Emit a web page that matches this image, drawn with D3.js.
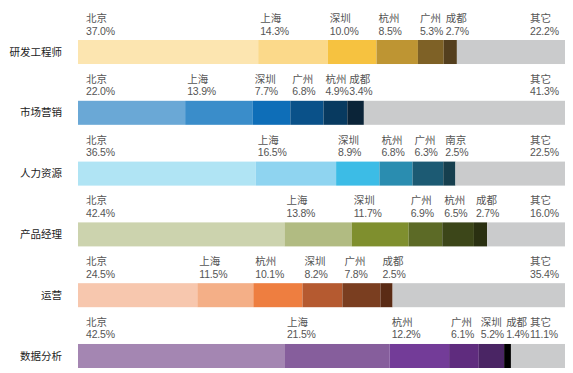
<!DOCTYPE html>
<html>
<head>
<meta charset="utf-8">
<script src="https://cdn.jsdelivr.net/npm/d3@7"></script>
<style>
  body { margin: 0; background: #fff; }
  svg { display: block; }
  text { font-family: "Liberation Sans", "Noto Sans CJK SC", sans-serif; }
</style>
</head>
<body>
<div id="chart"></div>
<script>
  // Data
  var roles = ["研发工程师", "市场营销", "人力资源", "产品经理", "运营", "数据分析"];

  var cities = [
    ["北京", "上海", "深圳", "杭州", "广州", "成都", "其它"],
    ["北京", "上海", "深圳", "广州", "杭州", "成都", "其它"],
    ["北京", "上海", "深圳", "杭州", "广州", "南京", "其它"],
    ["北京", "上海", "深圳", "广州", "杭州", "成都", "其它"],
    ["北京", "上海", "杭州", "深圳", "广州", "成都", "其它"],
    ["北京", "上海", "杭州", "广州", "深圳", "成都", "其它"]
  ];

  var shares = [
    [37.0, 14.3, 10.0, 8.5, 5.3, 2.7, 22.2],
    [22.0, 13.9, 7.7, 6.8, 4.9, 3.4, 41.3],
    [36.5, 16.5, 8.9, 6.8, 6.3, 2.5, 22.5],
    [42.4, 13.8, 11.7, 6.9, 6.5, 2.7, 16.0],
    [24.5, 11.5, 10.1, 8.2, 7.8, 2.5, 35.4],
    [42.5, 21.5, 12.2, 6.1, 5.2, 1.4, 11.1]
  ];

  // one colour ramp per role, "其它" is always grey
  var palettes = [
    ["#fce5b0", "#fbd98a", "#f6c240", "#be9533", "#7e6126", "#543f1e"],
    ["#6aa8d6", "#3a8dca", "#0e6eb8", "#0a5189", "#083a60", "#0b2438"],
    ["#b0e4f4", "#8fd4f0", "#3cbce6", "#2a8db0", "#1c5a73", "#163f4e"],
    ["#ccd3ae", "#b1bb82", "#7f8f2e", "#5c6a26", "#3c4619", "#2a3011"],
    ["#f7c7ae", "#f4af87", "#ee7e40", "#b55a30", "#7a3e20", "#5a2b15"],
    ["#a486b2", "#865e9c", "#733c98", "#5f2c7e", "#4a2564", "#000000"]
  ];
  var otherColor = "#cacbcc";

  var w = 573, h = 373;

  var x = d3.scaleLinear().domain([0, 100]).range([78, 565]);
  var y = d3.scaleBand().domain(roles).range([40, 368]).paddingInner(0.605).paddingOuter(0);

  var svg = d3.select("#chart").append("svg")
    .attr("width", w)
    .attr("height", h);

  // Build stacked segments per row
  var rows = roles.map(function (role, r) {
    var start = 0;
    var segs = shares[r].map(function (v, i) {
      var last = i === shares[r].length - 1;
      var seg = {
        role: role,
        city: cities[r][i],
        value: v,
        x0: start,
        x1: start + v,
        isOther: last,
        first: i === 0,
        color: last ? otherColor : palettes[r][i]
      };
      start += v;
      return seg;
    });
    return { role: role, segs: segs };
  });

  var rowG = svg.selectAll("g.row")
    .data(rows)
    .enter()
    .append("g")
    .attr("class", "row")
    .attr("transform", function (d) { return "translate(0," + y(d.role) + ")"; });

  // Role labels on the left
  rowG.append("text")
    .attr("x", 62)
    .attr("y", y.bandwidth() / 2)
    .attr("dy", "0.35em")
    .attr("text-anchor", "end")
    .attr("font-size", 10.5)
    .attr("fill", "#222")
    .style("font-family", "'Noto Sans CJK SC', sans-serif")
    .text(function (d) { return d.role; });

  // Segments
  rowG.selectAll("rect")
    .data(function (d) { return d.segs; })
    .enter()
    .append("rect")
    .attr("x", function (d) { return x(d.x0); })
    .attr("y", 0)
    .attr("width", function (d) { return x(d.x1) - x(d.x0); })
    .attr("height", y.bandwidth())
    .attr("fill", function (d) { return d.color; });

  // Labels: city name over percentage
  function labelX(d) {
    if (d.isOther) return 530;
    return x(d.x0) + (d.first ? 8 : 2);
  }

  var labels = rowG.selectAll("g.lbl")
    .data(function (d) { return d.segs; })
    .enter()
    .append("g")
    .attr("class", "lbl")
    .attr("transform", function (d) { return "translate(" + labelX(d) + ",0)"; });

  labels.append("text")
    .attr("y", -18)
    .attr("font-size", 10.5)
    .attr("fill", "#555")
    .style("font-family", "'Noto Sans CJK SC', sans-serif")
    .text(function (d) { return d.city; });

  labels.append("text")
    .attr("y", -5.5)
    .attr("font-size", 10.5)
    .attr("letter-spacing", "-0.2")
    .attr("fill", "#555")
    .text(function (d) { return d.value.toFixed(1) + "%"; });
</script>
</body>
</html>
